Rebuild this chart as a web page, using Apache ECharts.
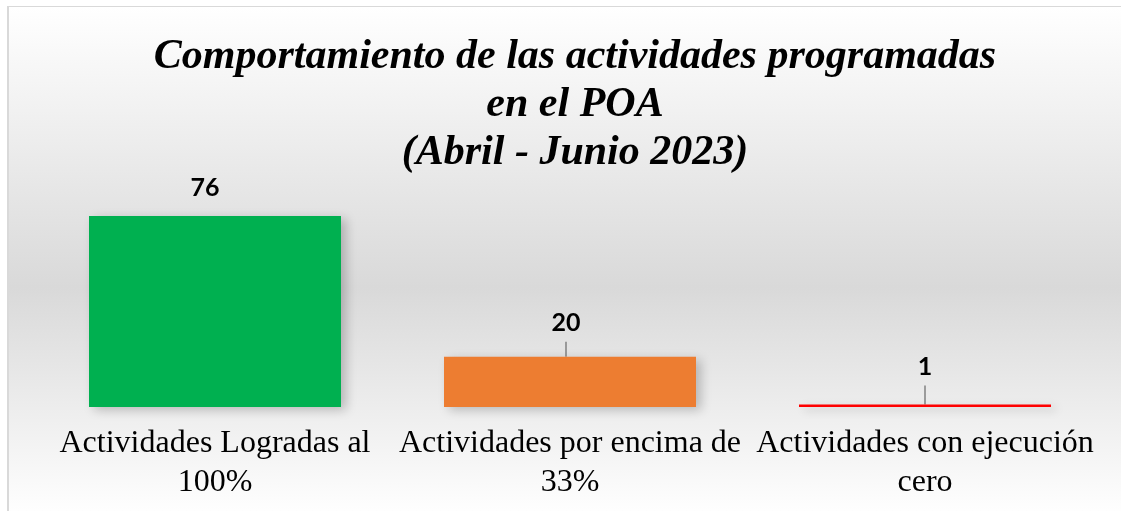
<!DOCTYPE html>
<html>
<head>
<meta charset="utf-8">
<script src="https://cdn.jsdelivr.net/npm/echarts@6/dist/echarts.min.js"></script>
<style>
  html, body { margin: 0; padding: 0; background: #fff; }
  #frame {
    position: absolute; left: 7px; top: 6px; width: 1120px; height: 510px;
    border-left: 2px solid #d9d9d9; border-top: 1px solid #d9d9d9;
    background: linear-gradient(to bottom, #ffffff 0%, #d9d9d9 55%, #ffffff 100%);
  }
  #chart { position: absolute; left: 0; top: 0; width: 1121px; height: 511px; }
</style>
</head>
<body>
<div id="frame"></div>
<div id="chart"></div>
<script>
  // datos del grafico
  var categories = [
    'Actividades Logradas al\n100%',
    'Actividades por encima de\n33%',
    'Actividades con ejecución\ncero'
  ];
  var values = [76, 20, 1];
  var barColors = ['#00b050', '#ed7d31', '#ff0000'];
  var labelLift = [0, 6, 10];
  var labelShift = [-10, -4, 0];
  var titleText = 'Comportamiento de las actividades programadas\nen el POA\n(Abril - Junio 2023)';

  var myChart = echarts.init(document.getElementById('chart'));

  var seriesData = values.map(function (v, i) {
    return {
      value: v,
      itemStyle: { color: barColors[i] },
      labelLine: { show: i > 0 }
    };
  });

  var option = {
    animation: false,
    title: {
      text: titleText,
      left: 570,
      top: 28,
      textAlign: 'center',
      textStyle: {
        fontFamily: 'Liberation Serif',
        fontStyle: 'italic',
        fontWeight: 'bold',
        fontSize: 42,
        lineHeight: 48,
        color: '#000'
      }
    },
    grid: {
      left: 37.5,
      right: 18.5,
      top: 206,
      bottom: 104
    },
    xAxis: {
      type: 'category',
      data: categories,
      axisLine: { show: false },
      axisTick: { show: false },
      axisLabel: {
        interval: 0,
        margin: 17,
        fontFamily: 'Liberation Serif',
        fontSize: 32,
        lineHeight: 39,
        color: '#000'
      }
    },
    yAxis: {
      type: 'value',
      min: 0,
      max: 80,
      show: false,
      splitLine: { show: false }
    },
    series: [{
      type: 'bar',
      barWidth: 252,
      data: seriesData,
      itemStyle: {
        shadowColor: 'rgba(0,0,0,0.22)',
        shadowBlur: 10,
        shadowOffsetX: 5,
        shadowOffsetY: 3
      },
      label: {
        show: true,
        position: 'top',
        distance: 9,
        lineHeight: 38,
        fontFamily: 'Lato',
        fontWeight: 'bold',
        fontSize: 25,
        color: '#000'
      },
      labelLayout: function (p) {
        return { dx: labelShift[p.dataIndex], dy: -labelLift[p.dataIndex] };
      },
      labelLine: {
        lineStyle: { color: '#808080', width: 1.5 }
      }
    }]
  };

  myChart.setOption(option);
</script>
</body>
</html>
